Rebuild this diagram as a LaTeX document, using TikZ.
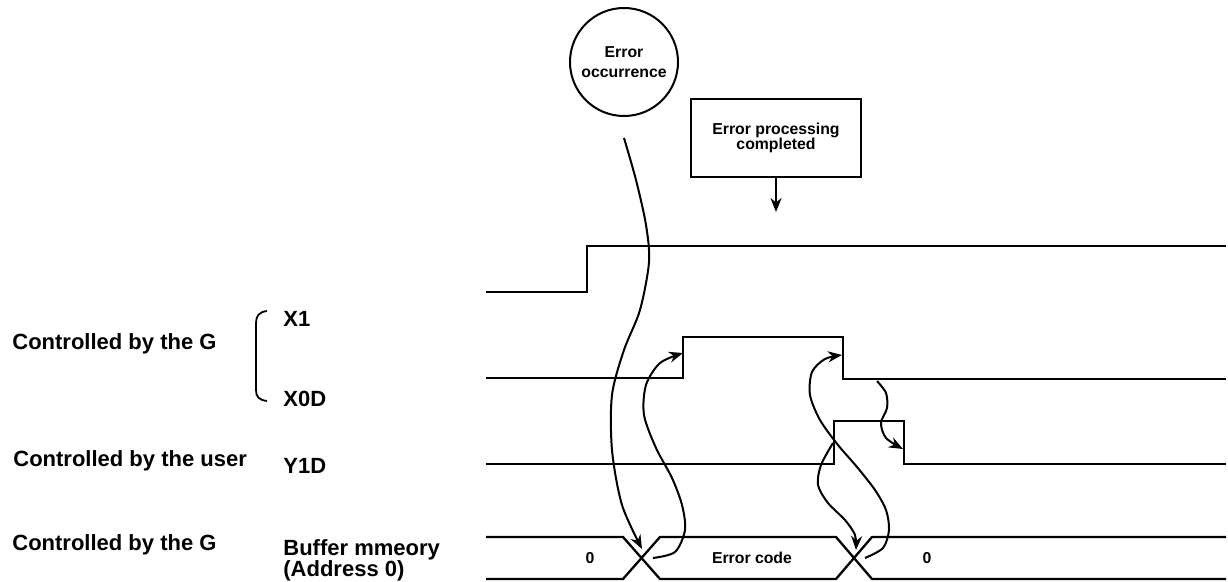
\documentclass[tikz,border=0pt]{standalone}
\usepackage{fontspec}
\setmainfont{Liberation Sans}
\usetikzlibrary{arrows.meta}

\begin{document}
\begin{tikzpicture}[
  x=0.5pt, y=-0.5pt,
  >={Stealth[length=7pt,width=5.5pt]},
  lbl/.style={font=\fontsize{11}{10.5}\selectfont\bfseries,
    anchor=base west, inner sep=0pt, align=left},
  small/.style={font=\fontsize{7.9}{9}\selectfont\bfseries,
    align=center, inner sep=0pt},
  event/.style={draw, circle, line width=1pt, minimum size=54pt},
  note/.style={draw, rectangle, line width=1pt,
    minimum width=85pt, minimum height=39pt},
  wave/.style={line width=1.15pt},
  link/.style={->, line width=1pt}
]
\useasboundingbox (0,0) rectangle (1228,582);

% Events above the chart
\node[event, small] (err) at (624,62) {Error\\[1pt]occurrence};
\node[note, small, font=\fontsize{7.9}{7.4}\selectfont\bfseries] (done) at (776,138) {Error processing\\completed};
\coordinate (donetip) at (776,212);
\draw[link] (done.south) -- (donetip);

% Signal names
\node[lbl] (gtop) at (12,350) {Controlled by the G};
\node[lbl] (user) at (13,467) {Controlled by the user};
\node[lbl] (gbot) at (12,551) {Controlled by the G};
\node[lbl] (x1) at (283,327) {X1};
\node[lbl] (x0d) at (283,407) {X0D};
\node[lbl] (y1d) at (283,474) {Y1D};
\node[lbl] (buf) at (283,577) {Buffer mmeory\\(Address 0)};
\draw[line width=0.9pt] (267,311) .. controls (259,312) and (256,316) .. (256,323)
  -- (256,390) .. controls (256,397) and (259,400) .. (267,401);

% Waveforms
\draw[wave] (486,292) -- (587,292) -- (587,246) -- (1226,246);
\draw[wave] (486,378) -- (683,378) -- (683,337) -- (843,337) -- (843,379) -- (1226,379);
\draw[wave] (486,464) -- (834,464) -- (834,421) -- (904,421) -- (904,464) -- (1226,464);
\draw[wave] (486,537) -- (623,537) -- (660,579) -- (836,579) -- (872,537) -- (1226,537);
\draw[wave] (486,579) -- (623,579) -- (660,537) -- (836,537) -- (872,579) -- (1226,579);
\node[small] (zero1) at (590,558) {0};
\node[small] (code) at (752,558) {Error code};
\node[small] (zero2) at (927,558) {0};

% Cause and effect
\coordinate (occ) at (624,138);
\coordinate (cross1) at (642,549);
\coordinate (tail1) at (653,558);
\coordinate (x1rise) at (683,353);
\coordinate (y1rise) at (833,443);
\coordinate (cross2) at (856,550);
\coordinate (tail2) at (865,558);
\coordinate (x1fall) at (842,355);
\coordinate (x1low) at (877,381);
\coordinate (y1fall) at (903,449);
\draw[link] plot[smooth] coordinates {(occ) (636,180) (646,225) (649,262)
  (640,310) (624,350) (612,395) (612,450) (622,505) (cross1)};
\draw[link] plot[smooth] coordinates {(tail1) (675,552) (685,530) (682,505)
  (672,478) (656,448) (644,415) (646,385) (660,363) (x1rise)};
\draw[link] plot[smooth] coordinates {(y1rise) (821,465) (818,485) (828,503)
  (845,520) (855,535) (cross2)};
\draw[link] plot[smooth] coordinates {(tail2) (883,548) (889,530) (886,510)
  (875,490) (857,467) (838,445) (820,420) (810,395) (812,372) (825,359) (x1fall)};
\draw[link] plot[smooth] coordinates {(x1low) (886,393) (887,408) (881,423)
  (886,438) (y1fall)};

\end{tikzpicture}
\end{document}
